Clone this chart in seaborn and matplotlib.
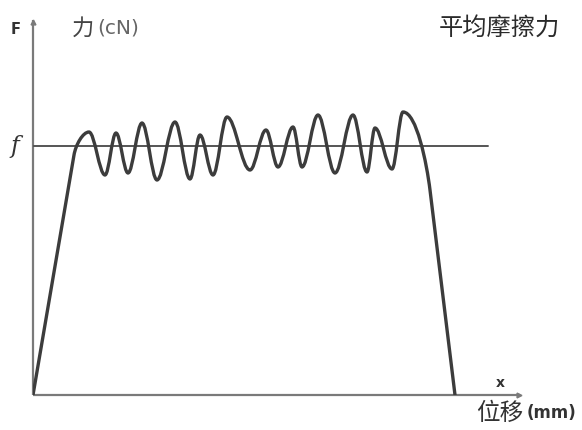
import numpy as np
import pandas as pd
import seaborn as sns
import matplotlib
matplotlib.use("Agg")
import matplotlib.pyplot as plt
from matplotlib.path import Path
from matplotlib.patches import PathPatch

# ---- data (arbitrary units: displacement x, force y) ----
rise_x = [0, 41]
rise_y = [0, 240]
# alternating peaks / troughs of the oscillating friction force
ext_x = [56, 72, 83, 95, 109, 124, 142, 157, 167, 180, 194, 217, 233, 245, 260,
         269, 285, 302, 320, 334, 342, 359, 370]
ext_y = [263, 220, 262, 222, 272, 215, 273, 216, 260, 220, 278, 225, 265, 228, 268,
         228, 280, 222, 280, 223, 267, 226, 283]
fall_x = [397, 422]
fall_y = [205, 0]
f_level = 249
f_line_end = 455

labels = {
    "F": "F",
    "unit_zh": "力",
    "unit": "(cN)",
    "avg": "平均摩擦力",
    "f": "f",
    "x": "x",
    "disp_zh": "位移",
    "disp": "(mm)",
}

sns.set_theme(style="white")
plt.rcParams['font.family'] = ['Noto Sans CJK SC', 'DejaVu Sans']

fig = plt.figure(figsize=(5.82, 4.30), dpi=100)
W, H = 582, 430
ax = fig.add_axes([33 / W, (H - 395) / H, (520 - 33) / W, (395 - 20) / H])
ax.set_xlim(0, 487)
ax.set_ylim(0, 375)
ax.axis("off")

axis_col = "#7a7a7a"
ax.plot([0, 0], [0, 375], color=axis_col, lw=1.6, clip_on=False, solid_capstyle="butt")
ax.plot([0, 487], [0, 0], color=axis_col, lw=1.6, clip_on=False, solid_capstyle="butt")
ax.plot([0], [373], marker="^", ms=3.5, color=axis_col, clip_on=False)
ax.plot([486], [0], marker=">", ms=3.5, color=axis_col, clip_on=False)

# average friction level
ax.plot([0, f_line_end], [f_level, f_level], color="#555555", lw=1.4, zorder=2)

# friction curve drawn as a smooth path through the read extrema
k = 0.36
verts = [(rise_x[0], rise_y[0]), (rise_x[1], rise_y[1])]
codes = [Path.MOVETO, Path.LINETO]
slope = (rise_y[1] - rise_y[0]) / (rise_x[1] - rise_x[0])
d = ext_x[0] - rise_x[1]
verts += [(rise_x[1] + 0.12 * d, rise_y[1] + 0.12 * d * slope),
          (ext_x[0] - 0.4 * d, ext_y[0]), (ext_x[0], ext_y[0])]
codes += [Path.CURVE4] * 3
for i in range(len(ext_x) - 1):
    ax0, ay0, bx0, by0 = ext_x[i], ext_y[i], ext_x[i + 1], ext_y[i + 1]
    dx = bx0 - ax0
    verts += [(ax0 + k * dx, ay0), (bx0 - k * dx, by0), (bx0, by0)]
    codes += [Path.CURVE4] * 3
fs = (fall_y[1] - fall_y[0]) / (fall_x[1] - fall_x[0])
d = fall_x[0] - ext_x[-1]
verts += [(ext_x[-1] + 0.5 * d, ext_y[-1]), (fall_x[0] - 0.12 * d, fall_y[0] - 0.12 * d * fs),
          (fall_x[0], fall_y[0]), (fall_x[1], fall_y[1])]
codes += [Path.CURVE4] * 3 + [Path.LINETO]
ax.add_patch(PathPatch(Path(verts, codes), fill=False, edgecolor="#3c3c3c", lw=2.4,
                       joinstyle="round", capstyle="round", zorder=3))

# texts (figure pixel coordinates)
def ftxt(px, py, s, **kw):
    fig.text(px / W, 1 - py / H, s, **kw)

ftxt(11, 30, labels["F"], fontsize=10.5, fontweight="bold", color="#333333",
     ha="left", va="center", family=["DejaVu Sans"])
ftxt(72, 28, labels["unit_zh"], fontsize=16, color="#444444", ha="left", va="center")
ftxt(97, 28, labels["unit"], fontsize=14.5, color="#666666", ha="left", va="center",
     family=["DejaVu Sans"])
ftxt(439, 28, labels["avg"], fontsize=17.5, color="#2a2a2a", ha="left", va="center")
ftxt(10, 146, labels["f"], fontsize=17, fontstyle="italic", color="#333333",
     ha="left", va="center", family=["DejaVu Serif"])
ftxt(500, 383, labels["x"], fontsize=10, fontweight="bold", color="#333333",
     ha="center", va="center", family=["DejaVu Sans"])
ftxt(476, 413, labels["disp_zh"], fontsize=17, color="#333333", ha="left", va="center")
ftxt(527, 413, labels["disp"], fontsize=12, fontweight="bold", color="#333333",
     ha="left", va="center", family=["DejaVu Sans"])

fig.savefig("out.png", dpi=100)
